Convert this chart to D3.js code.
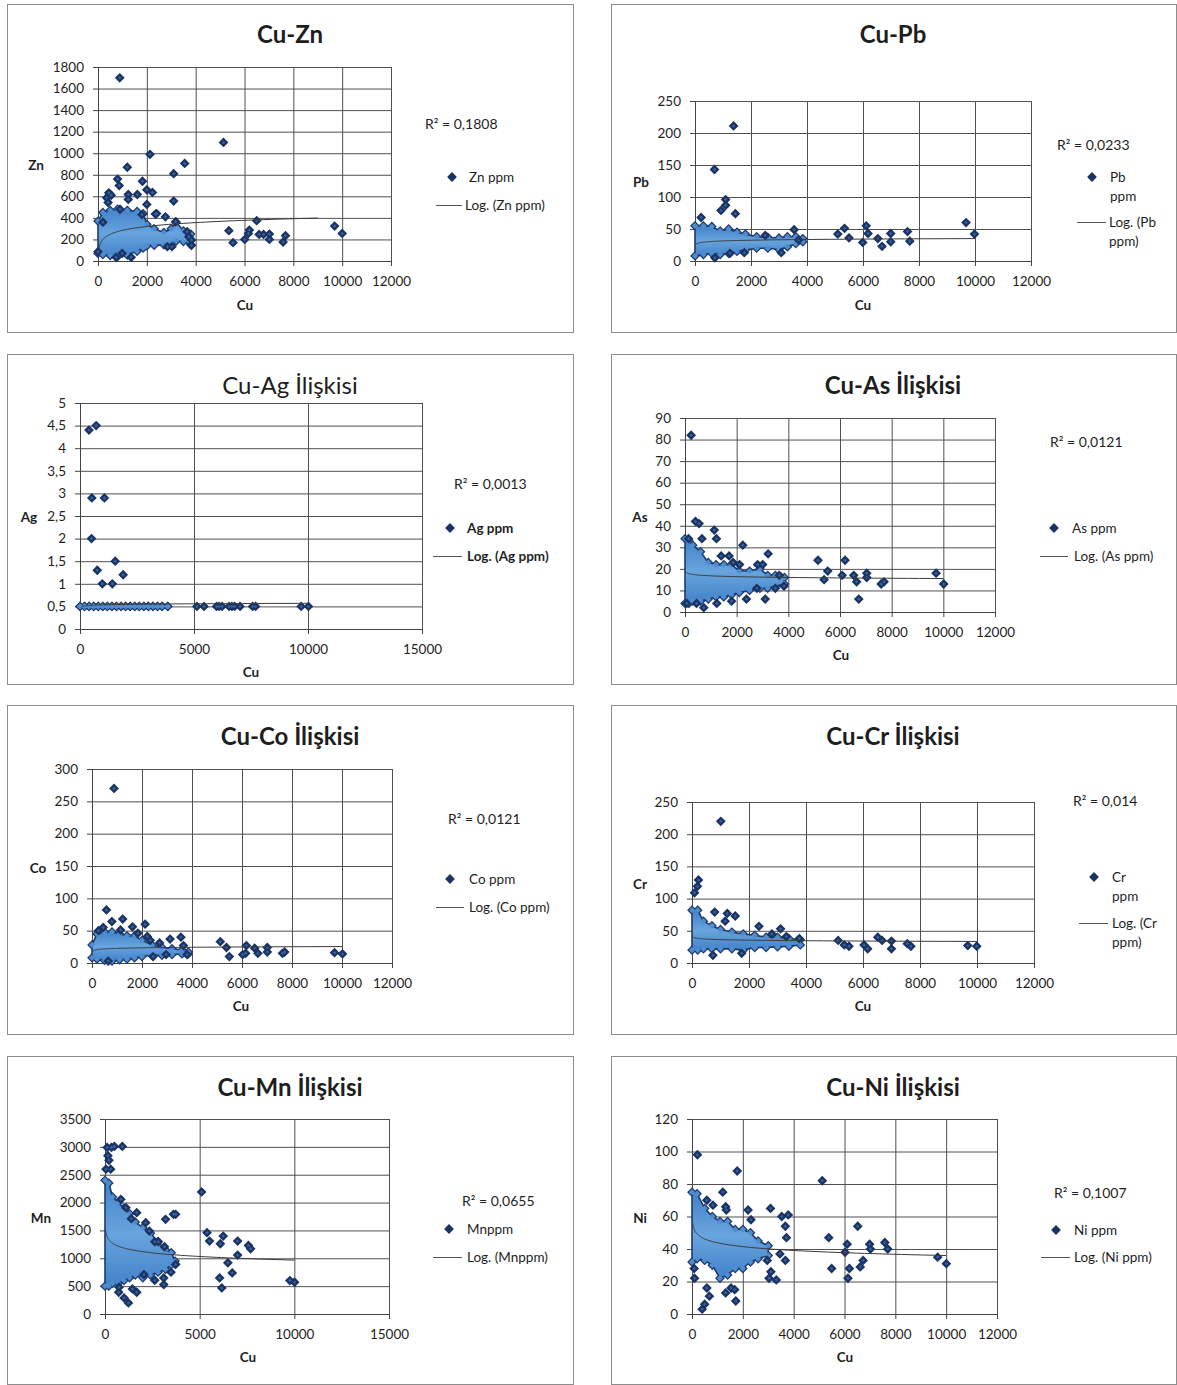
<!DOCTYPE html>
<html>
<head>
<meta charset="utf-8">
<script src="https://cdn.jsdelivr.net/npm/d3@7"></script>
<style>
  body { margin: 0; background: #fff; }
  svg { display: block; }
  text { font-family: Lato, "Open Sans", "Noto Sans", sans-serif; fill: #1e1e1e; }
</style>
</head>
<body>
<svg id="chart" width="1177" height="1385"></svg>
<script>
// ---- Tick values -------------------------------------------------------
const cuTicks12k = [0, 2000, 4000, 6000, 8000, 10000, 12000];
const cuTicks15k = [0, 5000, 10000, 15000];
const znTicks = [0, 200, 400, 600, 800, 1000, 1200, 1400, 1600, 1800];
const pbTicks = [0, 50, 100, 150, 200, 250];
const agTicks = [0, 0.5, 1, 1.5, 2, 2.5, 3, 3.5, 4, 4.5, 5];
const asTicks = [0, 10, 20, 30, 40, 50, 60, 70, 80, 90];
const coTicks = [0, 50, 100, 150, 200, 250, 300];
const crTicks = [0, 50, 100, 150, 200, 250];
const mnTicks = [0, 500, 1000, 1500, 2000, 2500, 3000, 3500];
const niTicks = [0, 20, 40, 60, 80, 100, 120];

// ---- Dense sample clouds: [Cu, lower edge, upper edge] --------------------
const znCloud = [[0,70,370],[200,60,450],[500,50,470],[800,40,480],[1200,55,470],[1600,90,460],[1850,120,440],[2000,140,340],[2300,145,300],[2700,150,265],[3000,160,300],[3200,185,360],[3500,180,280],[3800,150,250]];
const pbCloud = [[0,8,55],[300,10,55],[600,12,54],[900,10,47],[1200,12,50],[1500,15,45],[1800,17,42],[2200,20,38],[2600,20,37],[3000,18,36],[3300,22,38],[3600,27,38],[3850,30,35]];
const agCloud = [[0,0.5,0.5],[200,0.5,0.5],[400,0.5,0.5],[600,0.5,0.5],[800,0.5,0.5],[1000,0.5,0.5],[1200,0.5,0.5],[1400,0.5,0.5],[1600,0.5,0.5],[1800,0.5,0.5],[2000,0.5,0.5],[2200,0.5,0.5],[2400,0.5,0.5],[2600,0.5,0.5],[2800,0.5,0.5],[3000,0.5,0.5],[3200,0.5,0.5],[3400,0.5,0.5],[3600,0.5,0.5],[3850,0.5,0.5]];
const asCloud = [[0,4,34],[150,4,33],[300,5,31],[600,5,28],[900,6,23],[1200,7,22],[1500,7,22],[1800,8,22],[2100,9,19],[2500,10,19],[2900,11,20],[3200,11,17],[3500,12,17],[3850,13,16]];
const coCloud = [[0,8,28],[200,6,45],[500,4,48],[800,3,48],[1100,5,45],[1400,6,42],[1700,8,42],[2000,10,35],[2400,12,28],[2800,12,24],[3200,13,22],[3600,14,20],[3850,14,17]];
const crCloud = [[0,20,82],[200,20,82],[400,22,65],[700,22,58],[1000,22,52],[1400,22,48],[1800,20,45],[2200,24,43],[2600,24,40],[3000,25,40],[3400,26,38],[3800,28,36]];
const mnCloud = [[0,500,2400],[200,500,2350],[400,550,2100],[700,550,2000],[1000,600,1900],[1300,650,1800],[1600,700,1650],[2000,650,1550],[2400,700,1450],[2800,750,1300],[3200,800,1150],[3500,880,1100],[3700,900,950]];
const niCloud = [[0,32,75],[200,34,74],[500,33,65],[800,30,60],[1100,22,57],[1400,24,57],[1700,28,52],[2000,28,52],[2300,32,50],[2600,34,45],[3000,36,42]];

// ---- Individual samples: [Cu ppm, element ppm] ---------------------------
const znPoints = [[890,1700],[2130,990],[1200,870],[3550,905],[5140,1100],[3100,810],[800,760],[870,700],[1820,740],[2000,660],[2230,636],[2000,525],[1610,617],[1240,617],[1240,571],[355,587],[443,633],[414,543],[540,610],[3100,556],[2350,435],[2760,410],[3180,364],[5360,281],[5530,170],[6010,200],[6160,256],[6200,287],[6500,374],[6600,247],[6780,247],[7020,200],[7020,250],[7580,176],[7680,235],[9690,324],[10000,256],[3650,272],[3720,225],[3830,195],[3830,145],[2840,133],[3030,133],[740,34],[1360,34],[990,71],[0,86],[900,480],[1800,430],[2400,440],[200,360]];
const pbPoints = [[1378,211],[695,143],[1094,96],[1094,87],[927,79],[1442,74],[219,68],[3540,49],[5100,42],[5340,51],[5500,36],[5990,29],[6115,55],[6180,43],[6530,35],[6680,23],[6990,43],[6990,30],[7590,46],[7670,31],[9680,60],[9980,42],[708,5],[1250,12],[1760,13],[3080,13],[2510,40],[3700,33]];
const agPoints = [[394,4.4],[710,4.5],[520,2.9],[1070,2.9],[505,2.0],[757,1.3],[1545,1.5],[1893,1.2],[978,1.0],[1420,1.0],[5125,0.5],[5440,0.5],[5990,0.5],[6100,0.5],[6230,0.5],[6540,0.5],[6660,0.5],[6780,0.5],[7020,0.5],[7570,0.5],[7700,0.5],[9700,0.5],[10020,0.5]];
const asPoints = [[238,82],[406,42],[545,41],[1133,38],[657,34],[1217,34],[140,34],[1400,26],[1706,26],[2238,31],[3217,27],[3007,22],[1860,23],[2112,22],[2811,22],[5147,24],[5524,19],[5385,15],[6196,24],[6084,17],[6531,17],[6643,14],[6727,6],[7035,18],[7035,16],[7594,13],[7706,14],[9720,18],[10014,13],[3650,17],[3832,12],[3497,11],[3105,6],[2783,11],[2378,6],[1804,5],[1231,4],[727,2],[448,4],[70,4]];
const coPoints = [[882,270],[578,82],[795,64],[1229,68],[1142,51],[260,50],[448,55],[1619,56],[2125,60],[1836,46],[2212,41],[2328,35],[2704,31],[3123,37],[3557,40],[3658,27],[3802,13],[2964,13],[2443,10],[650,3],[5132,33],[5378,24],[5494,10],[6029,13],[6174,27],[6145,15],[6506,23],[6636,15],[7012,24],[7012,17],[7619,15],[7706,17],[9701,16],[10019,14]];
const crPoints = [[1010,220],[88,109],[190,119],[227,129],[796,79],[1238,77],[1162,65],[1516,73],[733,12],[1743,15],[2349,57],[3107,53],[2803,45],[3309,41],[3764,38],[5128,35],[5343,28],[5507,26],[6038,28],[6164,22],[6518,40],[6670,35],[6998,34],[6998,22],[7554,30],[7680,26],[9676,27],[9991,26]];
const mnPoints = [[114,2990],[343,2990],[495,3008],[914,3008],[152,2840],[209,2760],[50,2600],[300,2600],[5102,2191],[838,2059],[1104,1909],[1675,1819],[1390,1711],[2151,1639],[2342,1489],[2627,1297],[2818,1297],[3141,1207],[3198,1699],[3617,1789],[3731,1789],[3731,889],[3484,750],[3103,648],[3103,528],[2627,606],[2056,708],[1447,450],[1675,390],[723,390],[1009,288],[1237,198],[742,480],[5387,1459],[5521,1309],[6244,1399],[6092,1261],[7005,1309],[7576,1231],[7690,1171],[7005,1057],[6491,919],[6720,738],[6054,648],[6168,468],[9766,600],[10013,570]];
const niPoints = [[214,98],[1779,88],[5125,82],[1210,75],[584,70],[826,67],[1324,66],[1352,64],[2206,64],[2320,58],[3089,65],[3530,60],[3787,61],[3673,54],[3715,47],[3673,33],[3459,37],[100,22],[85,28],[584,16],[683,11],[399,3],[498,6],[1324,13],[1537,16],[1722,8],[1680,15],[3032,22],[3317,21],[2960,33],[3104,26],[5381,47],[5495,28],[6021,38],[6107,43],[6135,22],[6192,28],[6520,54],[6619,29],[6733,33],[6989,43],[7018,40],[7587,44],[7701,40],[9665,35],[10007,31]];

// ---- Logarithmic trend lines: [a, b, Cu from, Cu to], y = a*ln(Cu) + b ----
const znTrend = [52, -75, 30, 9000];
const pbTrend = [1.6, 20.3, 30, 10000];
const agTrend = [0.015, 0.43, 30, 10000];
const asTrend = [-0.54, 20.5, 30, 10000];
const coTrend = [1.22, 14.2, 30, 10000];
const crTrend = [-1.23, 44.8, 30, 10000];
const mnTrend = [-94, 1833, 30, 10000];
const niTrend = [-3.4, 67.3, 30, 10000];

// ---- Labels ---------------------------------------------------------------
const titles = ["Cu-Zn", "Cu-Pb", "Cu-Ag İlişkisi", "Cu-As İlişkisi", "Cu-Co İlişkisi", "Cu-Cr İlişkisi", "Cu-Mn İlişkisi", "Cu-Ni İlişkisi"];
const elements = ["Zn", "Pb", "Ag", "As", "Co", "Cr", "Mn", "Ni"];
const r2Labels = ["R² = 0,1808", "R² = 0,0233", "R² = 0,0013", "R² = 0,0121", "R² = 0,0121", "R² = 0,014", "R² = 0,0655", "R² = 0,1007"];
const seriesLabels = [["Zn ppm"], ["Pb", "ppm"], ["Ag ppm"], ["As ppm"], ["Co ppm"], ["Cr", "ppm"], ["Mnppm"], ["Ni ppm"]];
const trendLabels = [["Log. (Zn ppm)"], ["Log. (Pb", "ppm)"], ["Log. (Ag ppm)"], ["Log. (As ppm)"], ["Log. (Co ppm)"], ["Log. (Cr", "ppm)"], ["Log. (Mnppm)"], ["Log. (Ni ppm)"]];

// ---- Panel layout (page pixels) -------------------------------------------
const layout = [
  { box: [7, 4, 566, 328],    plot: [98, 391, 67, 261],    title: [290, 33],   yT: [36, 165],   xT: [245, 305],  r2: [425, 123],  mk: [452, 177],  tx: 469,  ln: [436, 462, 205],  lt: 465 },
  { box: [611, 4, 565, 328],  plot: [695, 1031, 101, 261], title: [893, 33],   yT: [641, 182],  xT: [863, 305],  r2: [1057, 144], mk: [1092, 177], tx: 1110, ln: [1077, 1106, 222], lt: 1109 },
  { box: [7, 354, 566, 330],  plot: [80, 422, 403, 629],   title: [290, 384],  yT: [29, 517],   xT: [251, 672],  r2: [454, 483],  mk: [450, 528],  tx: 467,  ln: [433, 462, 556],  lt: 467, regularTitle: true, boldLegend: true },
  { box: [611, 354, 565, 330], plot: [685, 995, 418, 612], title: [893, 384],  yT: [640, 517],  xT: [841, 655],  r2: [1050, 441], mk: [1054, 528], tx: 1072, ln: [1040, 1068, 556], lt: 1074 },
  { box: [7, 705, 566, 329],  plot: [92, 392, 769, 963],   title: [290, 735],  yT: [38, 868],   xT: [241, 1006], r2: [448, 818],  mk: [450, 879],  tx: 469,  ln: [436, 464, 907],  lt: 469 },
  { box: [611, 705, 565, 329], plot: [692, 1034, 802, 963], title: [893, 735], yT: [640, 884],  xT: [863, 1006], r2: [1073, 800], mk: [1094, 877], tx: 1112, ln: [1079, 1108, 923], lt: 1112 },
  { box: [7, 1056, 566, 328], plot: [105, 389, 1119, 1314], title: [290, 1086], yT: [41, 1218],  xT: [248, 1357], r2: [462, 1200], mk: [449, 1229], tx: 467,  ln: [433, 462, 1257], lt: 467 },
  { box: [611, 1056, 565, 328], plot: [692, 997, 1119, 1314], title: [893, 1086], yT: [640, 1218], xT: [845, 1357], r2: [1054, 1192], mk: [1056, 1230], tx: 1074, ln: [1041, 1070, 1257], lt: 1074 }
];

const panelData = [
  { xTicks: cuTicks12k, yTicks: znTicks, cloud: znCloud, points: znPoints, trend: znTrend },
  { xTicks: cuTicks12k, yTicks: pbTicks, cloud: pbCloud, points: pbPoints, trend: pbTrend },
  { xTicks: cuTicks15k, yTicks: agTicks, cloud: agCloud, points: agPoints, trend: agTrend },
  { xTicks: cuTicks12k, yTicks: asTicks, cloud: asCloud, points: asPoints, trend: asTrend },
  { xTicks: cuTicks12k, yTicks: coTicks, cloud: coCloud, points: coPoints, trend: coTrend },
  { xTicks: cuTicks12k, yTicks: crTicks, cloud: crCloud, points: crPoints, trend: crTrend },
  { xTicks: cuTicks15k, yTicks: mnTicks, cloud: mnCloud, points: mnPoints, trend: mnTrend },
  { xTicks: cuTicks12k, yTicks: niTicks, cloud: niCloud, points: niPoints, trend: niTrend }
];

// ---- Styles ---------------------------------------------------------------
const NAVY = "#1b3363";
const NAVY_EDGE = "#1d3a6c";
const HILITE = "#34639f";
const GRID = "#505050";
const diamondOuter = d3.symbol().type(d3.symbolSquare).size(48)();
const diamondInner = d3.symbol().type(d3.symbolSquare).size(20)();
const diamondDot = d3.symbol().type(d3.symbolSquare).size(6)();
const fmt = d => String(d).replace(".", ",");

const svg = d3.select("#chart");
const defs = svg.append("defs");
const grad = defs.append("linearGradient").attr("id", "cloudFill")
  .attr("x1", 0).attr("y1", 0).attr("x2", 0).attr("y2", 1);
grad.append("stop").attr("offset", "0%").attr("stop-color", "#4282c9");
grad.append("stop").attr("offset", "50%").attr("stop-color", "#68a4dd");
grad.append("stop").attr("offset", "100%").attr("stop-color", "#4282c9");

svg.append("rect").attr("width", 1177).attr("height", 1385).attr("fill", "#fff");

function drawPanel(L, D, i) {
  const g = svg.append("g");
  const [bx, by, bw, bh] = L.box;
  g.append("rect").attr("x", bx + 0.5).attr("y", by + 0.5).attr("width", bw).attr("height", bh)
    .attr("fill", "#fff").attr("stroke", "#8c8c8c").attr("stroke-width", 1);

  const [pl, pr, pt, pb] = L.plot;
  const x = d3.scaleLinear().domain([D.xTicks[0], D.xTicks[D.xTicks.length - 1]]).range([pl, pr]);
  const y = d3.scaleLinear().domain([D.yTicks[0], D.yTicks[D.yTicks.length - 1]]).range([pb, pt]);

  // gridlines
  const gridY = g.append("g").attr("transform", `translate(${pl},0)`)
    .call(d3.axisLeft(y).tickValues(D.yTicks).tickSize(-(pr - pl)).tickFormat(""));
  const gridX = g.append("g").attr("transform", `translate(0,${pb})`)
    .call(d3.axisBottom(x).tickValues(D.xTicks).tickSize(-(pb - pt)).tickFormat(""));
  [gridY, gridX].forEach(a => {
    a.select(".domain").remove();
    a.selectAll("line").attr("stroke", GRID).attr("stroke-width", 1);
  });

  // axes with outward tick marks and labels
  const axY = g.append("g").attr("transform", `translate(${pl},0)`)
    .call(d3.axisLeft(y).tickValues(D.yTicks).tickSize(5).tickSizeOuter(0).tickPadding(9).tickFormat(fmt));
  const axX = g.append("g").attr("transform", `translate(0,${pb})`)
    .call(d3.axisBottom(x).tickValues(D.xTicks).tickSize(5).tickSizeOuter(0).tickPadding(10).tickFormat(fmt));
  [axY, axX].forEach(a => {
    a.select(".domain").attr("stroke", "#444");
    a.selectAll("line").attr("stroke", "#444");
    a.selectAll("text").attr("font-size", 13.5).attr("fill", "#262626")
      .style("font-family", "Lato, 'Open Sans', sans-serif");
  });

  // dense cloud of overlapping markers
  const verts = D.cloud.flatMap(d => [[d[0], d[1]], [d[0], d[2]]]);
  g.append("g").selectAll("path").data(verts).join("path")
    .attr("d", diamondOuter)
    .attr("transform", d => `translate(${x(d[0])},${y(d[1])}) rotate(45)`)
    .attr("fill", NAVY_EDGE);
  const area = d3.area().x(d => x(d[0])).y0(d => y(d[1])).y1(d => y(d[2]));
  g.append("path").datum(D.cloud).attr("d", area)
    .attr("fill", "url(#cloudFill)").attr("stroke", NAVY_EDGE).attr("stroke-width", 1.6)
    .attr("stroke-linejoin", "round");
  g.append("g").selectAll("path").data(verts).join("path")
    .attr("d", diamondInner)
    .attr("transform", d => `translate(${x(d[0])},${y(d[1])}) rotate(45)`)
    .attr("fill", "#4f8dd0");

  // individual samples
  const pts = g.append("g");
  pts.selectAll("path.o").data(D.points).join("path").attr("class", "o")
    .attr("d", diamondOuter)
    .attr("transform", d => `translate(${x(d[0])},${y(d[1])}) rotate(45)`)
    .attr("fill", NAVY);
  pts.selectAll("path.h").data(D.points).join("path").attr("class", "h")
    .attr("d", diamondDot)
    .attr("transform", d => `translate(${x(d[0])},${y(d[1])}) rotate(45)`)
    .attr("fill", HILITE);

  // logarithmic trend line
  const [a, b, c0, c1] = D.trend;
  const cuSteps = d3.range(0, 121).map(k => c0 * Math.pow(c1 / c0, k / 120));
  const trendLine = d3.line().x(c => x(c)).y(c => y(a * Math.log(c) + b));
  g.append("path").datum(cuSteps).attr("d", trendLine)
    .attr("fill", "none").attr("stroke", "#3a3a3a").attr("stroke-width", 1);

  // titles
  g.append("text").attr("x", L.title[0]).attr("y", L.title[1])
    .attr("text-anchor", "middle").attr("dominant-baseline", "central")
    .attr("font-size", 24).attr("font-weight", L.regularTitle ? 400 : 700).text(titles[i]);
  g.append("text").attr("x", L.yT[0]).attr("y", L.yT[1])
    .attr("text-anchor", "middle").attr("dominant-baseline", "central")
    .attr("font-size", 13.5).attr("font-weight", 700).text(elements[i]);
  g.append("text").attr("x", L.xT[0]).attr("y", L.xT[1])
    .attr("text-anchor", "middle").attr("dominant-baseline", "central")
    .attr("font-size", 13.5).attr("font-weight", 700).text("Cu");
  g.append("text").attr("x", L.r2[0]).attr("y", L.r2[1])
    .attr("dominant-baseline", "central").attr("font-size", 14).attr("fill", "#333").text(r2Labels[i]);

  // legend
  const lw = L.boldLegend ? 700 : 400;
  g.append("path").attr("d", diamondOuter)
    .attr("transform", `translate(${L.mk[0]},${L.mk[1]}) rotate(45)`).attr("fill", NAVY);
  seriesLabels[i].forEach((t, k) => {
    g.append("text").attr("x", L.tx).attr("y", L.mk[1] + k * 18.5)
      .attr("dominant-baseline", "central").attr("font-size", 13.5).attr("font-weight", lw)
      .attr("fill", "#262626").text(t);
  });
  g.append("line").attr("x1", L.ln[0]).attr("x2", L.ln[1]).attr("y1", L.ln[2] + 0.5).attr("y2", L.ln[2] + 0.5)
    .attr("stroke", "#555").attr("stroke-width", 1);
  trendLabels[i].forEach((t, k) => {
    g.append("text").attr("x", L.lt).attr("y", L.ln[2] + k * 18.5)
      .attr("dominant-baseline", "central").attr("font-size", 13.5).attr("font-weight", lw)
      .attr("fill", "#262626").text(t);
  });
}

layout.forEach((L, i) => drawPanel(L, panelData[i], i));
</script>
</body>
</html>
